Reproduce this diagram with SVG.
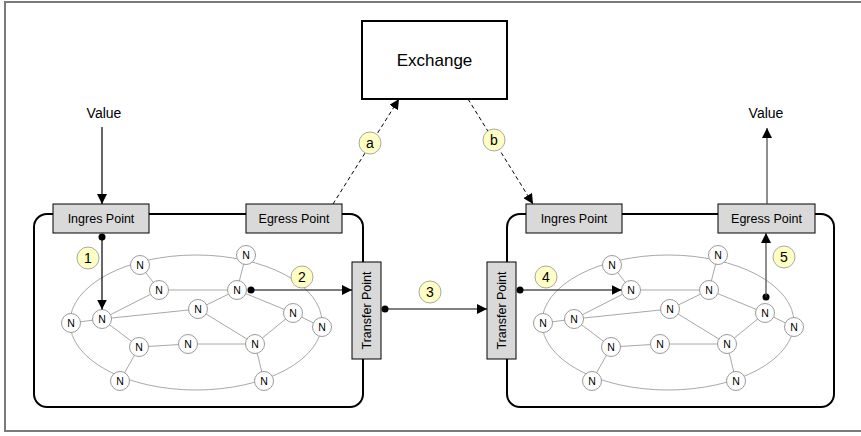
<svg xmlns="http://www.w3.org/2000/svg" width="861" height="436" viewBox="0 0 861 436">
  <style>
    text { font-family: "Liberation Sans", Arial, sans-serif; fill: #000; }
    .frame { fill: none; stroke: #7a7a7a; stroke-width: 2; }
    .domain { fill: #fff; stroke: #000; stroke-width: 2; }
    .port { fill: #d9d9d9; stroke: #000; stroke-width: 1; }
    .port-label { font-size: 12.5px; text-anchor: middle; }
    .exchange { fill: #fff; stroke: #000; stroke-width: 2; }
    .mesh line, .mesh ellipse { fill: none; stroke: #a8a8a8; stroke-width: 1; }
    .node circle { fill: #fff; stroke: #9a9a9a; stroke-width: 1; }
    .node text { font-size: 10.5px; text-anchor: middle; }
    .step circle { fill: #ffffc4; stroke: #a8a8a8; stroke-width: 1; }
    .step text { font-size: 14px; text-anchor: middle; }
    .flow { fill: none; stroke: #000; stroke-width: 1.2; }
    .flow-grey { fill: none; stroke: #444; stroke-width: 1.2; }
    .dashed { fill: none; stroke: #000; stroke-width: 1; stroke-dasharray: 4 3; }
    .dot { fill: #000; }
  </style>
  <defs>
    <marker id="arrow" viewBox="0 0 10 10" refX="10" refY="5" markerWidth="10" markerHeight="10" markerUnits="userSpaceOnUse" orient="auto">
      <path d="M0,0 L10,5 L0,10 z" fill="#000"/>
    </marker>
    <!-- mesh links, shared by both domains -->
    <g id="mesh-links" class="mesh">
      <ellipse cx="196" cy="322.5" rx="126" ry="67.5"/>
      <line x1="140" y1="265" x2="159" y2="290"/>
      <line x1="159" y1="290" x2="237" y2="290"/>
      <line x1="159" y1="290" x2="102" y2="319"/>
      <line x1="246" y1="255" x2="237" y2="290"/>
      <line x1="237" y1="290" x2="198" y2="309"/>
      <line x1="237" y1="290" x2="293" y2="313"/>
      <line x1="293" y1="313" x2="322" y2="327"/>
      <line x1="293" y1="313" x2="255" y2="344"/>
      <line x1="198" y1="309" x2="102" y2="319"/>
      <line x1="198" y1="309" x2="255" y2="344"/>
      <line x1="71" y1="323" x2="102" y2="319"/>
      <line x1="102" y1="319" x2="139" y2="347"/>
      <line x1="139" y1="347" x2="188" y2="344"/>
      <line x1="188" y1="344" x2="255" y2="344"/>
      <line x1="139" y1="347" x2="120" y2="381"/>
      <line x1="255" y1="344" x2="264" y2="381"/>
    </g>
  </defs>

  <rect width="861" height="436" fill="#fff"/>
  <!-- outer frame -->
  <path class="frame" d="M870,2 H5 V431 H870"/>

  <!-- left domain -->
  <g id="domain-left">
    <rect class="domain" x="34" y="214" width="329" height="193" rx="13"/>
    <use href="#mesh-links"/>
  </g>
  <g id="l-n1" class="node"><circle cx="140" cy="265" r="9.5"/><text x="140" y="268.8">N</text></g>
  <g id="l-n2" class="node"><circle cx="246" cy="255" r="9.5"/><text x="246" y="258.8">N</text></g>
  <g id="l-n3" class="node"><circle cx="159" cy="290" r="9.5"/><text x="159" y="293.8">N</text></g>
  <g id="l-n4" class="node"><circle cx="237" cy="290" r="9.5"/><text x="237" y="293.8">N</text></g>
  <g id="l-n5" class="node"><circle cx="198" cy="309" r="9.5"/><text x="198" y="312.8">N</text></g>
  <g id="l-n6" class="node"><circle cx="293" cy="313" r="9.5"/><text x="293" y="316.8">N</text></g>
  <g id="l-n7" class="node"><circle cx="71" cy="323" r="9.5"/><text x="71" y="326.8">N</text></g>
  <g id="l-n8" class="node"><circle cx="102" cy="319" r="9.5"/><text x="102" y="322.8">N</text></g>
  <g id="l-n9" class="node"><circle cx="322" cy="327" r="9.5"/><text x="322" y="330.8">N</text></g>
  <g id="l-n10" class="node"><circle cx="139" cy="347" r="9.5"/><text x="139" y="350.8">N</text></g>
  <g id="l-n11" class="node"><circle cx="188" cy="344" r="9.5"/><text x="188" y="347.8">N</text></g>
  <g id="l-n12" class="node"><circle cx="255" cy="344" r="9.5"/><text x="255" y="347.8">N</text></g>
  <g id="l-n13" class="node"><circle cx="120" cy="381" r="9.5"/><text x="120" y="384.8">N</text></g>
  <g id="l-n14" class="node"><circle cx="264" cy="381" r="9.5"/><text x="264" y="384.8">N</text></g>

  <!-- right domain -->
  <g id="domain-right">
    <rect class="domain" x="507" y="214" width="327" height="193" rx="13"/>
    <use href="#mesh-links" transform="translate(472,0)"/>
  </g>
  <g id="r-n1" class="node"><circle cx="612" cy="265" r="9.5"/><text x="612" y="268.8">N</text></g>
  <g id="r-n2" class="node"><circle cx="718" cy="255" r="9.5"/><text x="718" y="258.8">N</text></g>
  <g id="r-n3" class="node"><circle cx="631" cy="290" r="9.5"/><text x="631" y="293.8">N</text></g>
  <g id="r-n4" class="node"><circle cx="709" cy="290" r="9.5"/><text x="709" y="293.8">N</text></g>
  <g id="r-n5" class="node"><circle cx="670" cy="309" r="9.5"/><text x="670" y="312.8">N</text></g>
  <g id="r-n6" class="node"><circle cx="765" cy="313" r="9.5"/><text x="765" y="316.8">N</text></g>
  <g id="r-n7" class="node"><circle cx="543" cy="323" r="9.5"/><text x="543" y="326.8">N</text></g>
  <g id="r-n8" class="node"><circle cx="574" cy="319" r="9.5"/><text x="574" y="322.8">N</text></g>
  <g id="r-n9" class="node"><circle cx="794" cy="327" r="9.5"/><text x="794" y="330.8">N</text></g>
  <g id="r-n10" class="node"><circle cx="611" cy="347" r="9.5"/><text x="611" y="350.8">N</text></g>
  <g id="r-n11" class="node"><circle cx="660" cy="344" r="9.5"/><text x="660" y="347.8">N</text></g>
  <g id="r-n12" class="node"><circle cx="727" cy="344" r="9.5"/><text x="727" y="347.8">N</text></g>
  <g id="r-n13" class="node"><circle cx="592" cy="381" r="9.5"/><text x="592" y="384.8">N</text></g>
  <g id="r-n14" class="node"><circle cx="736" cy="381" r="9.5"/><text x="736" y="384.8">N</text></g>

  <g id="ingress-left">
    <rect class="port" x="53" y="204" width="96" height="29"/>
    <text class="port-label" x="101" y="223">Ingres Point</text>
  </g>
  <g id="egress-left">
    <rect class="port" x="246" y="204" width="96" height="29"/>
    <text class="port-label" x="294" y="223">Egress Point</text>
  </g>
  <g id="ingress-right">
    <rect class="port" x="526" y="204" width="96" height="29"/>
    <text class="port-label" x="574" y="223">Ingres Point</text>
  </g>
  <g id="egress-right">
    <rect class="port" x="718" y="204" width="97" height="29"/>
    <text class="port-label" x="766.5" y="223">Egress Point</text>
  </g>
  <g id="transfer-left">
    <rect class="port" x="352" y="262" width="29" height="97"/>
    <text class="port-label" transform="translate(370.8,310.5) rotate(-90)" x="0" y="0">Transfer Point</text>
  </g>
  <g id="transfer-right">
    <rect class="port" x="487" y="262" width="29" height="97"/>
    <text class="port-label" transform="translate(505.8,310.5) rotate(-90)" x="0" y="0">Transfer Point</text>
  </g>

  <g id="exchange">
    <rect class="exchange" x="362" y="21" width="145" height="78"/>
    <text x="434.5" y="66" font-size="17" text-anchor="middle">Exchange</text>
  </g>

  <g id="value-in"><text x="104" y="118" font-size="14" text-anchor="middle">Value</text></g>
  <g id="value-out"><text x="766" y="118" font-size="14" text-anchor="middle">Value</text></g>

  <!-- connectors -->
  <g id="connectors">
    <line class="flow" x1="102" y1="127" x2="102" y2="204" marker-end="url(#arrow)"/>
    <line class="flow-grey" x1="767" y1="204" x2="767" y2="128" marker-end="url(#arrow)"/>

    <line class="dashed" x1="333" y1="204" x2="399" y2="99" marker-end="url(#arrow)"/>
    <line class="dashed" x1="468" y1="99" x2="533" y2="204" marker-end="url(#arrow)"/>

    <circle class="dot" cx="102" cy="237" r="3.5"/>
    <line class="flow" x1="102" y1="237" x2="102" y2="309.5" marker-end="url(#arrow)"/>

    <circle class="dot" cx="251" cy="290" r="3.5"/>
    <line class="flow" x1="251" y1="290" x2="352" y2="290" marker-end="url(#arrow)"/>

    <circle class="dot" cx="385" cy="309" r="3.5"/>
    <line class="flow" x1="385" y1="309" x2="487" y2="309" marker-end="url(#arrow)"/>

    <circle class="dot" cx="520" cy="290" r="3.5"/>
    <line class="flow" x1="520" y1="290" x2="621.5" y2="290" marker-end="url(#arrow)"/>

    <circle class="dot" cx="766" cy="297" r="3.5"/>
    <line class="flow-grey" x1="766" y1="297" x2="766" y2="233" marker-end="url(#arrow)"/>
  </g>

  <!-- step badges -->
  <g id="step-a" class="step"><circle cx="370" cy="143" r="11"/><text x="370" y="148">a</text></g>
  <g id="step-b" class="step"><circle cx="494" cy="140" r="11"/><text x="494" y="145">b</text></g>
  <g id="step-1" class="step"><circle cx="88" cy="258" r="11"/><text x="88" y="263">1</text></g>
  <g id="step-2" class="step"><circle cx="302" cy="277" r="11"/><text x="302" y="282">2</text></g>
  <g id="step-3" class="step"><circle cx="430" cy="292" r="11"/><text x="430" y="297">3</text></g>
  <g id="step-4" class="step"><circle cx="546" cy="277" r="11"/><text x="546" y="282">4</text></g>
  <g id="step-5" class="step"><circle cx="784" cy="257" r="11"/><text x="784" y="262">5</text></g>
</svg>
